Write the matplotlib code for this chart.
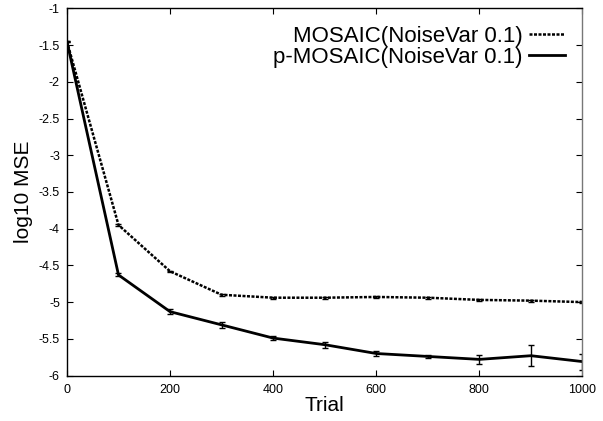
import matplotlib
matplotlib.use("Agg")
import matplotlib.pyplot as plt

plt.rcParams['font.family'] = ['Liberation Sans', 'DejaVu Sans']

trials = [0, 100, 200, 300, 400, 500, 600, 700, 800, 900, 1000]
mosaic = [-1.45, -3.95, -4.58, -4.90, -4.94, -4.94, -4.93, -4.94, -4.97, -4.98, -5.00]
mosaic_err = [0.01, 0.01, 0.01, 0.01, 0.015, 0.015, 0.015, 0.015, 0.01, 0.015, 0.015]
pmosaic = [-1.45, -4.63, -5.13, -5.31, -5.49, -5.58, -5.70, -5.74, -5.78, -5.73, -5.81]
pmosaic_err = [0.01, 0.02, 0.03, 0.04, 0.03, 0.04, 0.03, 0.02, 0.065, 0.14, 0.11]

fig = plt.figure(figsize=(6.03, 4.21), dpi=100)
ax = fig.add_axes([0.111, 0.108, 0.855, 0.872])

dash = (0, (1.2, 0.6))
ax.plot(trials, mosaic, color='black', lw=1.8, ls=dash, label='MOSAIC(NoiseVar 0.1)')
ax.errorbar(trials, mosaic, yerr=mosaic_err, fmt='none', ecolor='black',
            capsize=2, elinewidth=1, capthick=1)
ax.plot(trials, pmosaic, color='black', lw=2.0, label='p-MOSAIC(NoiseVar 0.1)')
ax.errorbar(trials, pmosaic, yerr=pmosaic_err, fmt='none', ecolor='black',
            capsize=2, elinewidth=1, capthick=1)

ax.set_xlim(0, 1000)
ax.set_ylim(-6, -1)
ax.set_xticks(range(0, 1001, 200))
ax.set_yticks([-6, -5.5, -5, -4.5, -4, -3.5, -3, -2.5, -2, -1.5, -1])
ax.set_yticklabels(['-6', '-5.5', '-5', '-4.5', '-4', '-3.5', '-3', '-2.5', '-2', '-1.5', '-1'])
ax.tick_params(direction='in', top=True, right=True, labelsize=9, length=4)
ax.tick_params(axis='x', pad=6)
ax.tick_params(axis='y', pad=5)
for s in ax.spines.values():
    s.set_linewidth(1.0)
ax.spines['right'].set_color('#777777')

ax.set_xlabel('Trial', fontsize=15, labelpad=0)
ax.set_ylabel('log10 MSE', fontsize=15, labelpad=4)

leg = ax.legend(loc='upper right', frameon=False, markerfirst=False,
                fontsize=16, handlelength=1.6, handletextpad=0.3,
                labelspacing=0.0, borderaxespad=0.4)

fig.savefig('out.png', dpi=100)
